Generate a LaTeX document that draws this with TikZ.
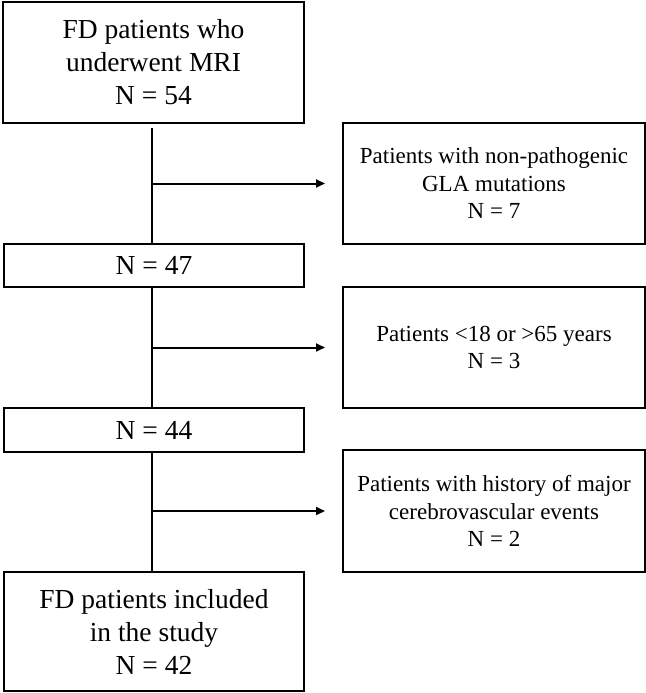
\documentclass[tikz,border=0pt]{standalone}
\usepackage{fontspec}
\setmainfont{Liberation Serif}
\usetikzlibrary{arrows.meta}
\begin{document}
\begin{tikzpicture}[x=1pt,y=-1pt,
  box/.style={draw,line width=2pt,anchor=north west,inner sep=0pt,align=center},
  bigtxt/.style={font=\fontsize{27.5}{33}\selectfont},
  smalltxt/.style={font=\fontsize{23}{27.5}\selectfont},
  flow/.style={line width=2pt},
  arr/.style={line width=2pt,-{Triangle[length=9pt,width=8pt]}}]
\useasboundingbox (0,0) rectangle (645,693);
\node[box,bigtxt,minimum width=301pt,minimum height=121pt] (b1) at (2,1) {FD patients who\\underwent MRI\\N = 54};
\node[box,smalltxt,minimum width=302pt,minimum height=121pt] (r1) at (342,122) {Patients with non-pathogenic\\GLA mutations\\N = 7};
\node[box,bigtxt,minimum width=300pt,minimum height=43pt] (n47) at (3,243) {N = 47};
\node[box,smalltxt,minimum width=302pt,minimum height=121pt] (r2) at (342,286) {Patients <18 or >65 years\\N = 3};
\node[box,bigtxt,minimum width=300pt,minimum height=44pt] (n44) at (3,407) {N = 44};
\node[box,smalltxt,minimum width=302pt,minimum height=122pt] (r3) at (342,449) {Patients with history of major\\cerebrovascular events\\N = 2};
\node[box,bigtxt,minimum width=300pt,minimum height=119pt] (fin) at (3,571) {FD patients included\\in the study\\N = 42};
\coordinate (v) at (152,0);
\draw[flow,shorten <=4pt] (b1.south -| v) -- (n47.north -| v);
\draw[flow] (n47.south -| v) -- (n44.north -| v);
\draw[flow] (n44.south -| v) -- (fin.north -| v);
\coordinate (t1) at ([xshift=-17pt]r1.west);
\coordinate (t2) at ([xshift=-17pt]r2.west);
\coordinate (t3) at ([xshift=-17pt]r3.west);
\draw[arr] (t1 -| v) -- (t1);
\draw[arr] (t2 -| v) -- (t2);
\draw[arr] (t3 -| v) -- (t3);
\end{tikzpicture}
\end{document}
